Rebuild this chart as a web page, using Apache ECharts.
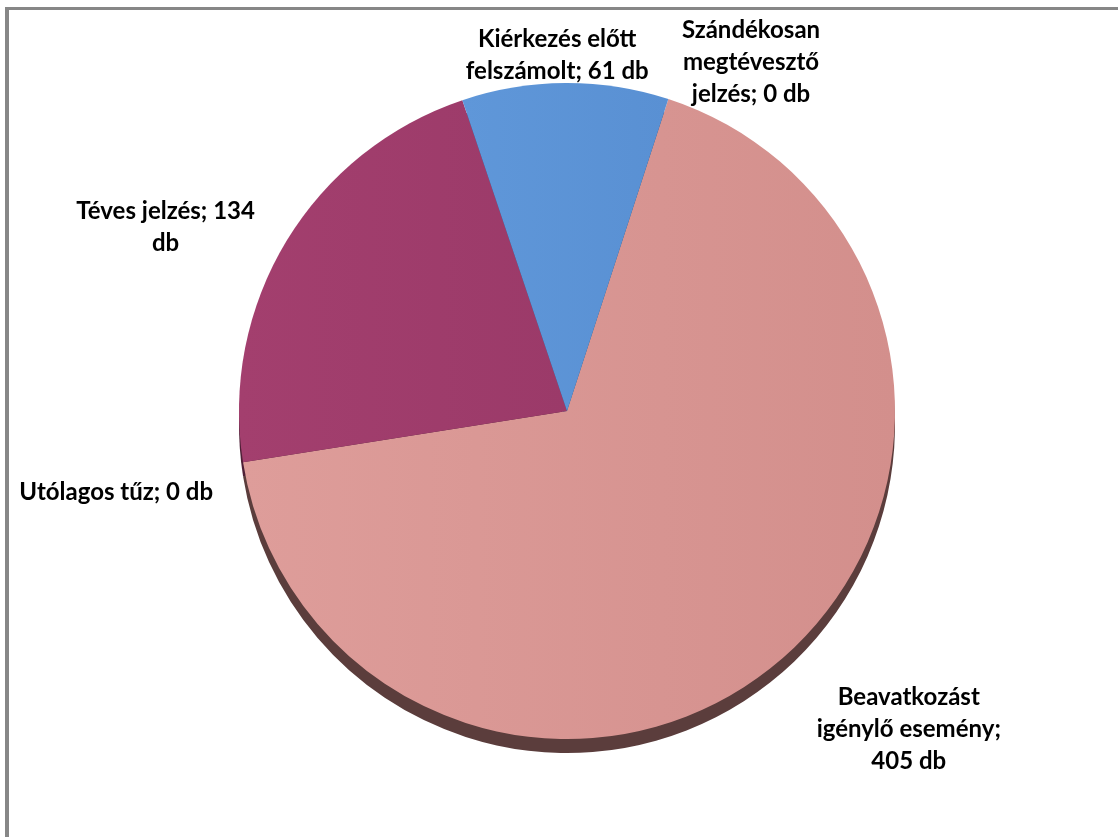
<!DOCTYPE html>
<html>
<head>
<meta charset="utf-8">
<script src="https://cdn.jsdelivr.net/npm/echarts@6/dist/echarts.min.js"></script>
<style>
  html, body { margin: 0; padding: 0; background: #fff; }
  #main { width: 1118px; height: 837px; position: relative; }
  #frame { position: absolute; left: 5px; top: 7px; right: -10px; bottom: -10px;
           border-left: 4px solid #878787; border-top: 3px solid #878787; pointer-events: none; }
</style>
</head>
<body>
<div id="main"></div>
<div id="frame"></div>
<script>
// categories in drawing order (clockwise, starting at the right edge of the blue slice)
var categories = ['Beavatkozást igénylő esemény', 'Utólagos tűz', 'Téves jelzés', 'Kiérkezés előtt felszámolt', 'Szándékosan megtévesztő jelzés'];
var values = [405, 0, 134, 61, 0];
var labelTexts = [
    'Beavatkozást\nigénylő esemény;\n405 db',
    'Utólagos tűz; 0 db',
    'Téves jelzés; 134\ndb',
    'Kiérkezés előtt\nfelszámolt; 61 db',
    'Szándékosan\nmegtévesztő\njelzés; 0 db'
];
var faceColors = [
    ['#de9d9a', '#d38f8c'],
    ['#de9d9a', '#d38f8c'],
    ['#a33f6e', '#9b3a69'],
    ['#5f97d9', '#5990d3'],
    ['#de9d9a', '#d38f8c']
];
var rimColors = ['#5b3d3c', '#5b3d3c', '#4e1f36', '#2f4c6e', '#5b3d3c'];
// label nudges [dx, dy]
var labelShift = [[84, 57], [-77, 28], [-73, -6], [27, -13], [43, -23]];

var myChart = echarts.init(document.getElementById('main'));

var faceData = categories.map(function (name, i) {
    return {
        name: name,
        value: values[i],
        itemStyle: {
            color: new echarts.graphic.LinearGradient(0, 0, 1, 0, [
                { offset: 0, color: faceColors[i][0] },
                { offset: 1, color: faceColors[i][1] }
            ])
        }
    };
});
var rimData = categories.map(function (name, i) {
    return { name: name, value: values[i], itemStyle: { color: rimColors[i] } };
});

var option = {
    backgroundColor: '#ffffff',
    animation: false,
    series: [
        {
            type: 'pie',
            silent: true,
            center: [567, 425],
            radius: 328,
            startAngle: 72,
            clockwise: true,
            label: { show: false },
            labelLine: { show: false },
            data: rimData,
            z: 1
        },
        {
            type: 'pie',
            center: [567, 411],
            radius: 328,
            startAngle: 72,
            clockwise: true,
            avoidLabelOverlap: false,
            itemStyle: { borderWidth: 0 },
            label: {
                show: true,
                position: 'outside',
                fontFamily: 'Lato',
                fontWeight: 'bold',
                fontSize: 24,
                lineHeight: 32,
                color: '#000',
                formatter: function (p) { return labelTexts[p.dataIndex]; }
            },
            labelLine: { show: false },
            labelLayout: function (p) {
                return {
                    align: 'center',
                    verticalAlign: 'middle',
                    dx: labelShift[p.dataIndex][0],
                    dy: labelShift[p.dataIndex][1]
                };
            },
            data: faceData,
            z: 2
        }
    ]
};

myChart.setOption(option);
</script>
</body>
</html>
